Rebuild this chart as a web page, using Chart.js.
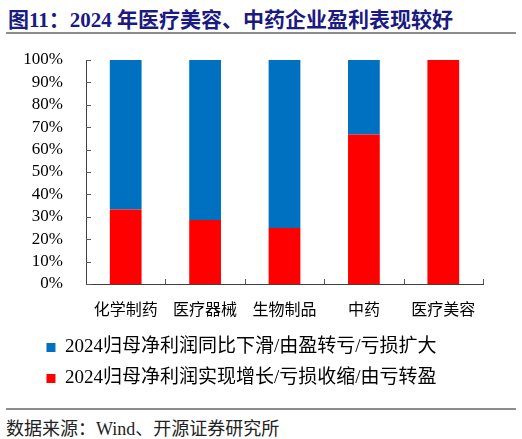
<!DOCTYPE html>
<html>
<head>
<meta charset="utf-8">
<script src="https://cdn.jsdelivr.net/npm/chart.js@4"></script>
<style>
  body { margin: 0; width: 522px; height: 439px; background: #fff; position: relative; overflow: hidden; }
  #title { position: absolute; left: 8px; top: 3px; font: bold 21px 'Liberation Serif', 'Noto Sans CJK SC'; color: #1a1a80; white-space: nowrap; }
  .rule { position: absolute; left: 6px; width: 510px; height: 2px; background: #8c8c8c; }
  #box { position: absolute; left: 0; top: 40px; width: 522px; height: 360px; }
  #source { position: absolute; left: 6px; top: 414px; font: 18px 'Liberation Serif', 'Noto Sans CJK SC'; color: #222; white-space: nowrap; }
</style>
</head>
<body>
<div id="title">图11：2024 年医疗美容、中药企业盈利表现较好</div>
<div class="rule" style="top:32px"></div>
<div id="box"><canvas id="chart"></canvas></div>
<div class="rule" style="top:408px"></div>
<div id="source">数据来源：Wind、开源证券研究所</div>

<script>
// 行业分类
const categories = ['化学制药', '医疗器械', '生物制品', '中药', '医疗美容'];
// 盈利改善占比 (%)
const upShare = [33.3, 28.6, 25.0, 66.7, 100];
// 盈利恶化占比 (%)
const downShare = [66.7, 71.4, 75.0, 33.3, 0];
const yTicks = [0, 10, 20, 30, 40, 50, 60, 70, 80, 90, 100];
const upLabel = '2024归母净利润实现增长/亏损收缩/由亏转盈';
const downLabel = '2024归母净利润同比下滑/由盈转亏/亏损扩大';

// 坐标轴内侧的小刻度
const innerTicks = {
    id: 'innerTicks',
    afterDraw(chart) {
        const { ctx, scales: { x, y } } = chart;
        ctx.save();
        ctx.strokeStyle = '#595959';
        ctx.lineWidth = 1;
        ctx.beginPath();
        yTicks.forEach(v => {
            const py = Math.round(y.getPixelForValue(v)) + 0.5;
            ctx.moveTo(x.left, py);
            ctx.lineTo(x.left + 5, py);
        });
        const step = (x.right - x.left) / categories.length;
        for (let i = 1; i <= categories.length; i++) {
            const px = Math.round(x.left + i * step) + 0.5;
            ctx.moveTo(px, y.bottom);
            ctx.lineTo(px, y.bottom - 5);
        }
        ctx.stroke();
        ctx.restore();
    }
};

const ctx = document.getElementById('chart').getContext('2d');
new Chart(ctx, {
    type: 'bar',
    data: {
        labels: categories,
        datasets: [
            { label: upLabel, data: upShare, backgroundColor: '#ff0000' },
            { label: downLabel, data: downShare, backgroundColor: '#0070c0' }
        ]
    },
    options: {
        responsive: true,
        maintainAspectRatio: false,
        animation: false,
        layout: { padding: { top: 20, right: 39, bottom: 2, left: 0 } },
        datasets: { bar: { barPercentage: 0.4, categoryPercentage: 1, borderWidth: 0 } },
        scales: {
            x: {
                stacked: true,
                grid: { display: false },
                border: { color: '#404040', width: 1 },
                ticks: {
                    color: '#000',
                    padding: 7,
                    font: { family: "'Noto Sans CJK SC'", size: 16 }
                },
                afterFit(scale) { scale.height = 42; }
            },
            y: {
                stacked: true,
                min: 0,
                max: 100,
                grid: { display: false },
                border: { color: '#404040', width: 1 },
                ticks: {
                    stepSize: 10,
                    autoSkip: false,
                    color: '#000',
                    padding: 15,
                    font: { family: "'Liberation Serif'", size: 17 },
                    callback: v => v + '%'
                },
                afterFit(scale) {
                    scale.width = 86;
                    scale.paddingTop = 10;
                    scale.paddingBottom = 10;
                }
            }
        },
        plugins: {
            legend: {
                position: 'bottom',
                reverse: true,
                labels: {
                    boxWidth: 9,
                    boxHeight: 9,
                    padding: 12,
                    color: '#000',
                    font: { family: "'Liberation Serif', 'Noto Sans CJK SC'", size: 19 }
                }
            },
            tooltip: { enabled: false }
        }
    },
    plugins: [innerTicks]
});
</script>
</body>
</html>
